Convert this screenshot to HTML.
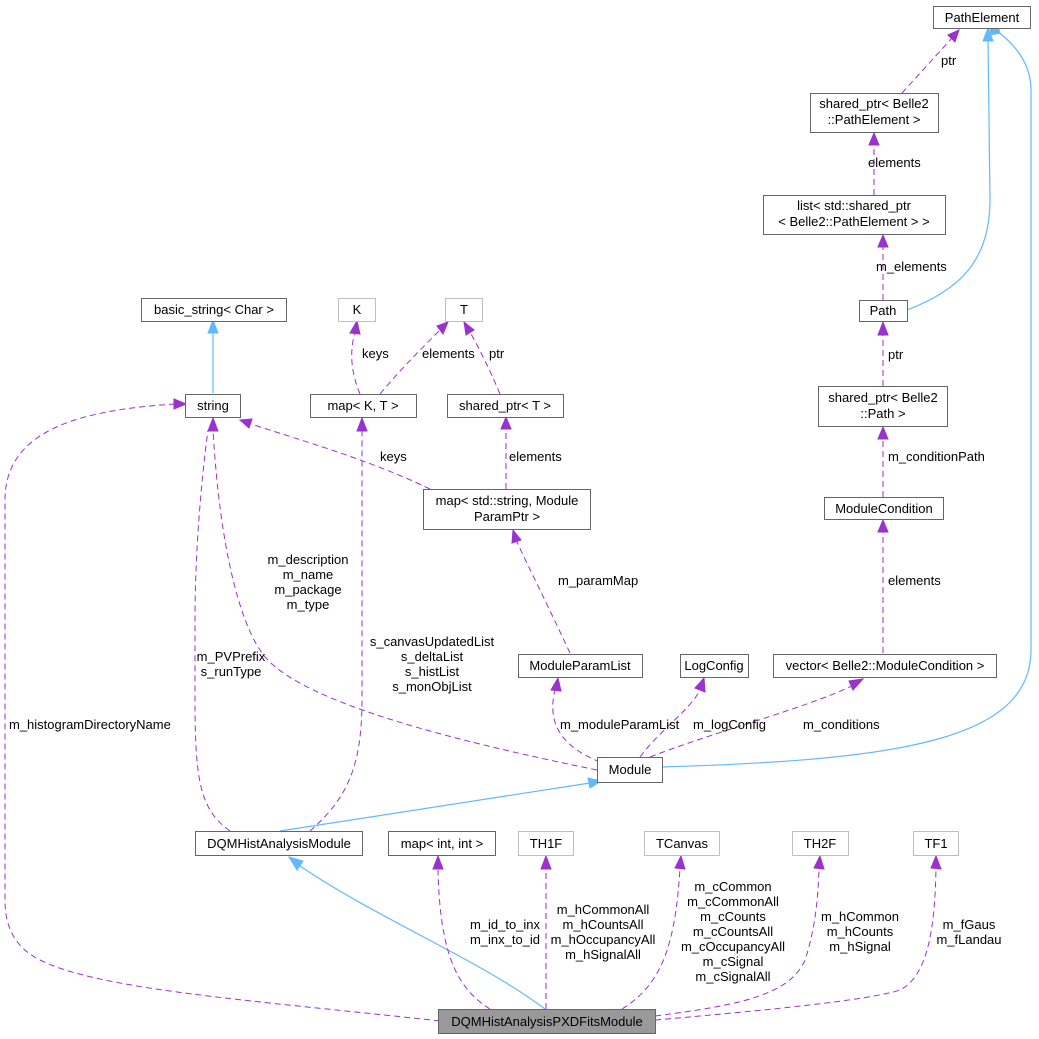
<!DOCTYPE html>
<html><head><meta charset="utf-8"><style>
html,body{margin:0;padding:0;background:#fff;}
svg{display:block;}
text{font-family:"Liberation Sans",Arial,sans-serif;font-size:13px;fill:#000;}
.n{fill:#fff;stroke:#666;stroke-width:1;}
.g{fill:#fff;stroke:#bfbfbf;stroke-width:1;}
.p{fill:none;stroke:#9a32cd;stroke-width:1;stroke-dasharray:6,4;}
.b{fill:none;stroke:#63b8ff;stroke-width:1.2;}
.ap{fill:#9a32cd;stroke:#9a32cd;}
.ab{fill:#63b8ff;stroke:#63b8ff;}
</style></head><body>
<svg width="1039" height="1039" viewBox="0 0 1039 1039" xmlns="http://www.w3.org/2000/svg">
<path class="b" d="M213,393 L213,332"/><polygon class="ab" points="208,333 213,320 218,333"/>
<path class="b" d="M280,831 L590,783"/><polygon class="ab" points="588,778 601,781 590,788"/>
<path class="b" d="M545,1009 C480,960 380,920 300,866"/><polygon class="ab" points="297,870 289,857 303,861"/>
<path class="b" d="M662,767 C900,760 1031,740 1031,650 L1031,90 C1031,60 1010,40 995,30"/><polygon class="ab" points="991,35 990,28 998,26 1000,33"/>
<path class="b" d="M907,310 C960,290 990,260 990,200 L988,40"/><polygon class="ab" points="983,41 988,28 993,41"/>
<path class="p" d="M902,93 L952,38"/><polygon class="ap" points="948,35 959,30 955,42"/>
<path class="p" d="M874,195 L874,144"/><polygon class="ap" points="869,145 874,133 879,145"/>
<path class="p" d="M883,300 L883,246"/><polygon class="ap" points="878,247 883,235 888,247"/>
<path class="p" d="M883,386 L883,334"/><polygon class="ap" points="878,335 883,322 888,335"/>
<path class="p" d="M883,497 L883,438"/><polygon class="ap" points="878,439 883,427 888,439"/>
<path class="p" d="M883,653 L883,531"/><polygon class="ap" points="878,532 883,520 888,532"/>
<path class="p" d="M650,757 C720,730 800,710 852,686"/><polygon class="ap" points="849,681 863,679 853,690"/>
<path class="p" d="M640,757 C660,730 690,710 700,690"/><polygon class="ap" points="695,688 704,678 705,692"/>
<path class="p" d="M600,762 C570,750 545,730 555,690"/><polygon class="ap" points="551,690 558,678 561,691"/>
<path class="p" d="M570,653 C550,610 530,570 516,540"/><polygon class="ap" points="512,543 513,530 521,540"/>
<path class="p" d="M597,770 C450,740 290,700 260,650 C240,620 220,550 213,430"/><polygon class="ap" points="208,431 213,418 218,431"/>
<path class="p" d="M506,489 L506,428"/><polygon class="ap" points="501,429 506,417 511,429"/>
<path class="p" d="M500,394 C490,370 480,350 470,332"/><polygon class="ap" points="466,335 464,322 474,330"/>
<path class="p" d="M360,394 C350,370 350,350 355,332"/><polygon class="ap" points="350,333 357,321 360,334"/>
<path class="p" d="M380,394 C400,370 420,350 440,330"/><polygon class="ap" points="437,326 448,322 443,334"/>
<path class="p" d="M430,489 C370,460 300,440 251,424"/><polygon class="ap" points="252,419 240,420 249,428"/>
<path class="p" d="M230,831 C200,810 195,780 195,700 L195,620 C195,560 200,490 208,430"/>
<path class="p" d="M310,831 C345,800 362,770 362,700 L362,430"/><polygon class="ap" points="357,431 362,418 367,431"/>
<path class="p" d="M440,1021 C250,1000 100,990 40,960 C10,945 5,920 5,900 L5,500 C5,430 80,410 175,404"/><polygon class="ap" points="174,399 186,404 174,409"/>
<path class="p" d="M490,1009 C460,990 440,960 438,870"/><polygon class="ap" points="433,869 438,856 443,869"/>
<path class="p" d="M546,1009 L546,868"/><polygon class="ap" points="541,869 546,856 551,869"/>
<path class="p" d="M622,1009 C660,985 675,950 680,868"/><polygon class="ap" points="675,868 681,856 685,869"/>
<path class="p" d="M655,1016 C740,1005 790,995 805,960 C815,930 818,900 819,868"/><polygon class="ap" points="814,868 820,856 824,869"/>
<path class="p" d="M655,1020 C770,1010 870,1000 900,990 C930,975 935,920 936,868"/><polygon class="ap" points="931,868 936,856 941,869"/>
<rect class="n" x="933.5" y="6.5" width="97" height="22"/><text x="982" y="22" text-anchor="middle">PathElement</text>
<rect class="n" x="810.5" y="93.5" width="128" height="39"/><text x="874" y="108" text-anchor="middle">shared_ptr&lt; Belle2</text><text x="874" y="124" text-anchor="middle">::PathElement &gt;</text>
<rect class="n" x="763.5" y="195.5" width="182" height="39"/><text x="854" y="210" text-anchor="middle">list&lt; std::shared_ptr</text><text x="854" y="226" text-anchor="middle">&lt; Belle2::PathElement &gt; &gt;</text>
<rect class="n" x="859.5" y="300.5" width="48" height="21"/><text x="883" y="315" text-anchor="middle">Path</text>
<rect class="n" x="818.5" y="386.5" width="129" height="40"/><text x="883" y="402" text-anchor="middle">shared_ptr&lt; Belle2</text><text x="883" y="418" text-anchor="middle">::Path &gt;</text>
<rect class="n" x="824.5" y="497.5" width="119" height="22"/><text x="884" y="513" text-anchor="middle">ModuleCondition</text>
<rect class="n" x="773.5" y="654.5" width="223" height="23"/><text x="885" y="670" text-anchor="middle">vector&lt; Belle2::ModuleCondition &gt;</text>
<rect class="n" x="680.5" y="654.5" width="68" height="23"/><text x="714" y="670" text-anchor="middle">LogConfig</text>
<rect class="n" x="518.5" y="654.5" width="124" height="23"/><text x="580" y="670" text-anchor="middle">ModuleParamList</text>
<rect class="n" x="597.5" y="757.5" width="65" height="25"/><text x="630" y="774" text-anchor="middle">Module</text>
<rect class="n" x="423.5" y="489.5" width="167" height="40"/><text x="507" y="505" text-anchor="middle">map&lt; std::string, Module</text><text x="507" y="521" text-anchor="middle">ParamPtr &gt;</text>
<rect class="n" x="141.5" y="298.5" width="145" height="23"/><text x="214" y="314" text-anchor="middle">basic_string&lt; Char &gt;</text>
<rect class="g" x="338.5" y="298.5" width="37" height="23"/><text x="357" y="314" text-anchor="middle">K</text>
<rect class="g" x="445.5" y="298.5" width="37" height="23"/><text x="464" y="314" text-anchor="middle">T</text>
<rect class="n" x="185.5" y="394.5" width="55" height="23"/><text x="213" y="410" text-anchor="middle">string</text>
<rect class="n" x="310.5" y="394.5" width="106" height="23"/><text x="363" y="410" text-anchor="middle">map&lt; K, T &gt;</text>
<rect class="n" x="447.5" y="394.5" width="116" height="23"/><text x="505" y="410" text-anchor="middle">shared_ptr&lt; T &gt;</text>
<rect class="n" x="195.5" y="831.5" width="167" height="24"/><text x="279" y="848" text-anchor="middle">DQMHistAnalysisModule</text>
<rect class="n" x="388.5" y="831.5" width="107" height="24"/><text x="442" y="848" text-anchor="middle">map&lt; int, int &gt;</text>
<rect class="g" x="518.5" y="831.5" width="55" height="24"/><text x="546" y="848" text-anchor="middle">TH1F</text>
<rect class="g" x="644.5" y="831.5" width="75" height="24"/><text x="682" y="848" text-anchor="middle">TCanvas</text>
<rect class="g" x="792.5" y="831.5" width="56" height="24"/><text x="820" y="848" text-anchor="middle">TH2F</text>
<rect class="g" x="913.5" y="831.5" width="45" height="24"/><text x="936" y="848" text-anchor="middle">TF1</text>
<rect x="438.5" y="1009.5" width="217" height="24" fill="#999" stroke="#666"/><text x="547" y="1026" text-anchor="middle">DQMHistAnalysisPXDFitsModule</text>
<text x="941" y="65">ptr</text>
<text x="868" y="167">elements</text>
<text x="876" y="271">m_elements</text>
<text x="888" y="359">ptr</text>
<text x="888" y="461">m_conditionPath</text>
<text x="888" y="585">elements</text>
<text x="803" y="729">m_conditions</text>
<text x="693" y="729">m_logConfig</text>
<text x="560" y="729">m_moduleParamList</text>
<text x="558" y="585">m_paramMap</text>
<text x="509" y="461">elements</text>
<text x="489" y="358">ptr</text>
<text x="362" y="358">keys</text>
<text x="422" y="358">elements</text>
<text x="380" y="461">keys</text>
<text x="308" y="564" text-anchor="middle">m_description</text>
<text x="308" y="579" text-anchor="middle">m_name</text>
<text x="308" y="594" text-anchor="middle">m_package</text>
<text x="308" y="609" text-anchor="middle">m_type</text>
<text x="231" y="661" text-anchor="middle">m_PVPrefix</text>
<text x="231" y="676" text-anchor="middle">s_runType</text>
<text x="432" y="646" text-anchor="middle">s_canvasUpdatedList</text>
<text x="432" y="661" text-anchor="middle">s_deltaList</text>
<text x="432" y="676" text-anchor="middle">s_histList</text>
<text x="432" y="691" text-anchor="middle">s_monObjList</text>
<text x="9" y="729">m_histogramDirectoryName</text>
<text x="505" y="929" text-anchor="middle">m_id_to_inx</text>
<text x="505" y="944" text-anchor="middle">m_inx_to_id</text>
<text x="603" y="914" text-anchor="middle">m_hCommonAll</text>
<text x="603" y="929" text-anchor="middle">m_hCountsAll</text>
<text x="603" y="944" text-anchor="middle">m_hOccupancyAll</text>
<text x="603" y="959" text-anchor="middle">m_hSignalAll</text>
<text x="733" y="891" text-anchor="middle">m_cCommon</text>
<text x="733" y="906" text-anchor="middle">m_cCommonAll</text>
<text x="733" y="921" text-anchor="middle">m_cCounts</text>
<text x="733" y="936" text-anchor="middle">m_cCountsAll</text>
<text x="733" y="951" text-anchor="middle">m_cOccupancyAll</text>
<text x="733" y="966" text-anchor="middle">m_cSignal</text>
<text x="733" y="981" text-anchor="middle">m_cSignalAll</text>
<text x="860" y="921" text-anchor="middle">m_hCommon</text>
<text x="860" y="936" text-anchor="middle">m_hCounts</text>
<text x="860" y="951" text-anchor="middle">m_hSignal</text>
<text x="969" y="929" text-anchor="middle">m_fGaus</text>
<text x="969" y="944" text-anchor="middle">m_fLandau</text>
</svg>
</body></html>
